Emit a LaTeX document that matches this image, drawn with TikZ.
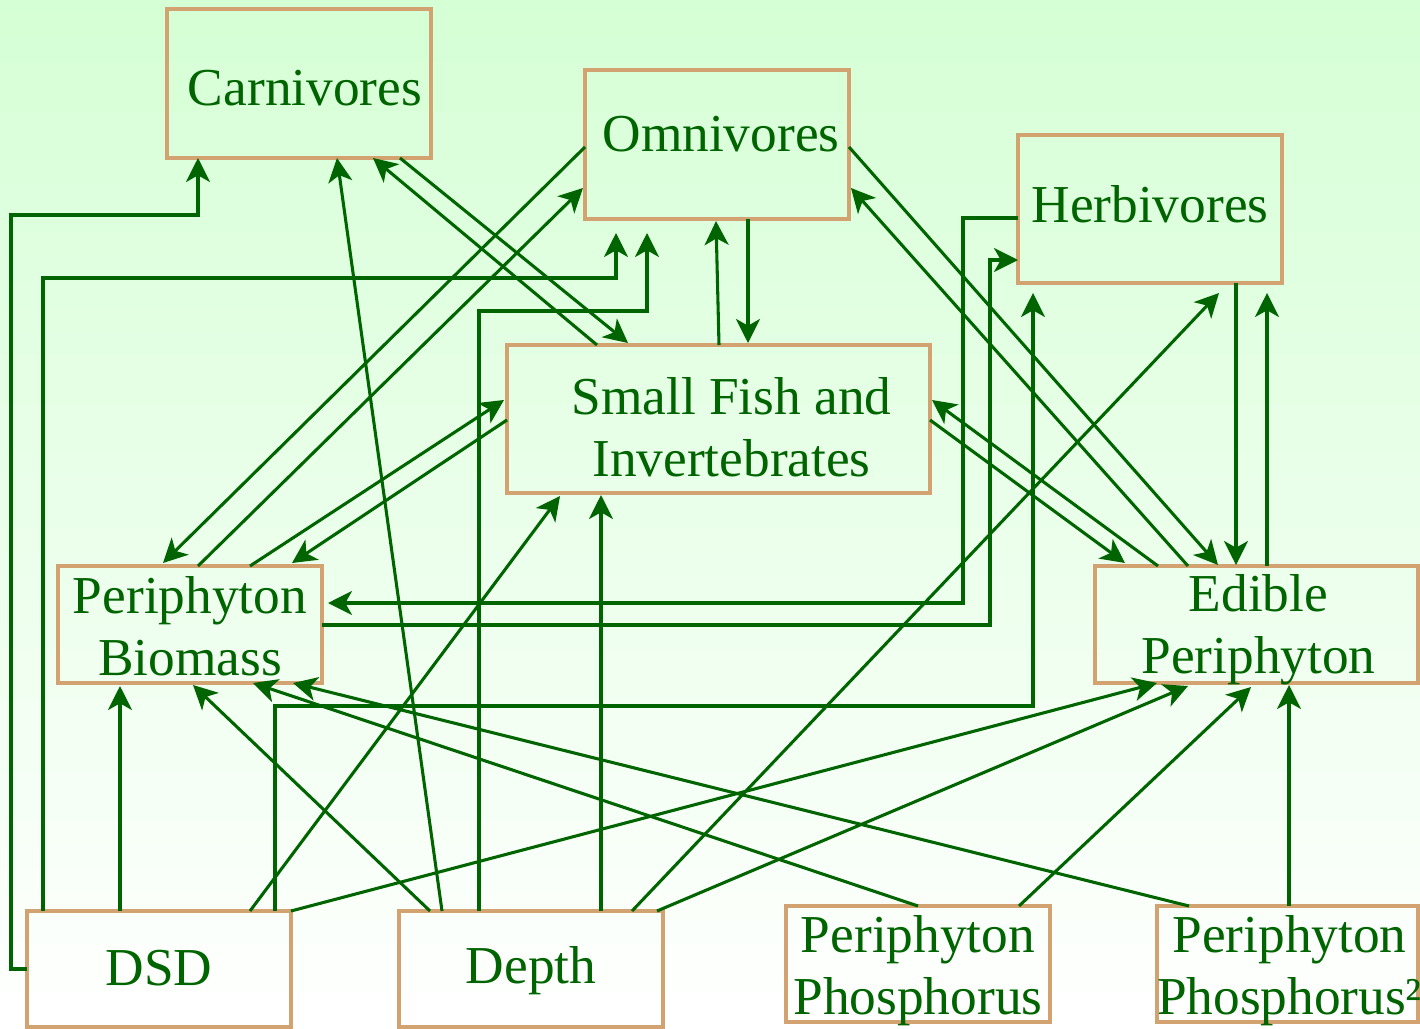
\documentclass[tikz,border=0pt]{standalone}
\usepackage{fontspec}
\setmainfont{Liberation Serif}
\usetikzlibrary{arrows.meta,calc}
\definecolor{dkgreen}{RGB}{0,100,0}
\definecolor{boxtan}{RGB}{210,163,112}
\definecolor{bgtop}{RGB}{213,255,213}
\begin{document}
\begin{tikzpicture}[x=0.75pt,y=-0.75pt,
  box/.style={draw=boxtan,line width=3.3pt,rectangle,inner sep=0pt,outer sep=0pt},
  lbl/.style={text=dkgreen,font=\fontsize{40}{46.5}\selectfont,align=center,inner sep=0pt},
  arr/.style={draw=dkgreen,line width=2.3pt,-{Stealth[length=18pt,width=18pt,inset=5pt]}}]
\useasboundingbox (0,0) rectangle (1420,1028);
\shade[top color=bgtop,bottom color=white] (0,0) rectangle (1420,1028);

% boxes
\node[box,minimum width=264*0.75pt,minimum height=149*0.75pt] (carn) at (299,83.5) {};
\node[box,minimum width=264*0.75pt,minimum height=149*0.75pt] (omni) at (717,144.5) {};
\node[box,minimum width=264*0.75pt,minimum height=148*0.75pt] (herb) at (1150,209) {};
\node[box,minimum width=423*0.75pt,minimum height=148*0.75pt] (sf) at (718.5,419) {};
\node[box,minimum width=264*0.75pt,minimum height=117*0.75pt] (pb) at (190,624.5) {};
\node[box,minimum width=323*0.75pt,minimum height=117*0.75pt] (ep) at (1256.5,624.5) {};
\node[box,minimum width=264*0.75pt,minimum height=116*0.75pt] (dsd) at (159,969) {};
\node[box,minimum width=264*0.75pt,minimum height=116*0.75pt] (depth) at (531,969) {};
\node[box,minimum width=264*0.75pt,minimum height=116*0.75pt] (pp) at (918,964) {};
\node[box,minimum width=261*0.75pt,minimum height=116*0.75pt] (pp2) at (1287.5,964) {};

% labels
\node[lbl] (carnt) at ($(carn.center)+(6,5)$) {Carnivores};
\node[lbl] (omnit) at ($(omni.center)+(4,-10)$) {Omnivores};
\node[lbl] (herbt) at ($(herb.center)+(0,-5)$) {Herbivores};
\node[lbl] (sft) at ($(sf.center)+(13,8)$) {Small Fish and\\Invertebrates};
\node[lbl] (pbt) at ($(pb.center)+(0,2)$) {Periphyton\\Biomass};
\node[lbl] (ept) at ($(ep.center)+(2,5)$) {Edible\\Periphyton};
\node[lbl] (dsdt) at ($(dsd.center)+(0,-1)$) {DSD};
\node[lbl] (deptht) at ($(depth.center)+(0,2)$) {Depth};
\node[lbl] (ppt) at ($(pp.center)+(0,7)$) {Periphyton\\Phosphorus};
\node[lbl] (pp2t) at ($(pp2.center)+(2,7)$) {Periphyton\\Phosphorus²};

% connectors
% 1 DSD -> Carnivores
\draw[arr] (dsd.west) -- ++(-16,0) |- ($(carn.south west)+(31,57)$) -- ($(carn.south west)+(31,0)$);
% 2 DSD -> Omnivores
\draw[arr] ($(dsd.north west)+(16,0)$) |- ($(omni.south west)+(31,59)$) -- ($(omni.south west)+(31,14)$);
% 3 Depth -> Omnivores
\draw[arr] ($(depth.north west)+(80,0)$) |- ($(omni.south west)+(62,92)$) -- ($(omni.south west)+(62,14)$);
% 4 Depth -> Carnivores
\draw[arr] ($(depth.north west)+(43,0)$) -- ($(carn.south west)+(170,0)$);
% 5 Depth -> Periphyton Biomass
\draw[arr] ($(depth.north west)+(31,0)$) -- ($(pb.south west)+(135,2)$);
% 6 DSD -> Periphyton Biomass
\draw[arr] ($(dsd.north west)+(93,0)$) -- ($(pb.south west)+(62,3)$);
% 7 DSD -> Small Fish
\draw[arr] ($(dsd.north west)+(223,0)$) -- ($(sf.south west)+(53,3)$);
% 8 Depth -> Small Fish
\draw[arr] ($(depth.north west)+(202,0)$) -- ($(sf.south west)+(94,2)$);
% 9 DSD -> Herbivores
\draw[arr] ($(dsd.north west)+(248,0)$) |- ($(herb.south west)+(15,423)$) -- ($(herb.south west)+(15,10)$);
% 10 Depth -> Herbivores
\draw[arr] ($(depth.north west)+(233,0)$) -- ($(herb.south west)+(201,10)$);
% 11 DSD -> Edible Periphyton
\draw[arr] (dsd.north east) -- ($(ep.south west)+(62,0)$);
% 12 Depth -> Edible Periphyton
\draw[arr] ($(depth.north east)+(-6,0)$) -- ($(ep.south west)+(93,3)$);
% 13 PP -> Edible Periphyton
\draw[arr] ($(pp.north west)+(233,0)$) -- ($(ep.south west)+(156,4)$);
% 14 PP2 -> Edible Periphyton
\draw[arr] ($(pp2.north west)+(132,0)$) -- ($(ep.south west)+(194,2)$);
% 15 PP -> Periphyton Biomass
\draw[arr] ($(pp.north west)+(132,0)$) -- ($(pb.south west)+(195,0)$);
% 16 PP2 -> Periphyton Biomass
\draw[arr] ($(pp2.north west)+(32,0)$) -- ($(pb.south west)+(235,0)$);
% 17 Herbivores -> Periphyton Biomass
\draw[arr] ($(herb.north west)+(0,83)$) -- ++(-55,0) |- ($(pb.north east)+(6,37)$);
% 18 Periphyton Biomass -> Herbivores
\draw[arr] ($(pb.north east)+(0,59)$) -| ($(herb.north west)+(-28,125)$) -- ($(herb.north west)+(0,125)$);
% 19 Omnivores -> Periphyton Biomass
\draw[arr] ($(omni.north west)+(0,77)$) -- ($(pb.north west)+(105,-3)$);
% 20 Periphyton Biomass -> Omnivores
\draw[arr] ($(pb.north west)+(140,0)$) -- ($(omni.north west)+(-2,118)$);
% 21 Periphyton Biomass -> Small Fish
\draw[arr] ($(pb.north west)+(192,0)$) -- ($(sf.north west)+(-3,55)$);
% 22 Small Fish -> Periphyton Biomass
\draw[arr] ($(sf.north west)+(0,75)$) -- ($(pb.north west)+(234,-3)$);
% 23 Small Fish -> Carnivores
\draw[arr] ($(sf.north west)+(90,0)$) -- ($(carn.south west)+(206,0)$);
% 24 Carnivores -> Small Fish
\draw[arr] ($(carn.south west)+(233,0)$) -- ($(sf.north west)+(121,-2)$);
% 25 Small Fish -> Omnivores
\draw[arr] ($(sf.north west)+(212,0)$) -- ($(omni.south west)+(131,2)$);
% 26 Omnivores -> Small Fish
\draw[arr] ($(omni.south west)+(163,0)$) -- ($(sf.north west)+(241,-2)$);
% 27 Omnivores -> Edible Periphyton
\draw[arr] ($(omni.north east)+(0,77)$) -- ($(ep.north west)+(123,-1)$);
% 28 Edible Periphyton -> Omnivores
\draw[arr] ($(ep.north west)+(93,0)$) -- ($(omni.north east)+(2,118)$);
% 29 Small Fish -> Edible Periphyton
\draw[arr] ($(sf.north east)+(0,75)$) -- ($(ep.north west)+(30,-3)$);
% 30 Edible Periphyton -> Small Fish
\draw[arr] ($(ep.north west)+(63,0)$) -- ($(sf.north east)+(2,55)$);
% 31 Herbivores -> Edible Periphyton
\draw[arr] ($(herb.south west)+(218,0)$) -- ($(ep.north west)+(141,-1)$);
% 32 Edible Periphyton -> Herbivores
\draw[arr] ($(ep.north west)+(172,0)$) -- ($(herb.south west)+(249,10)$);
\end{tikzpicture}
\end{document}
